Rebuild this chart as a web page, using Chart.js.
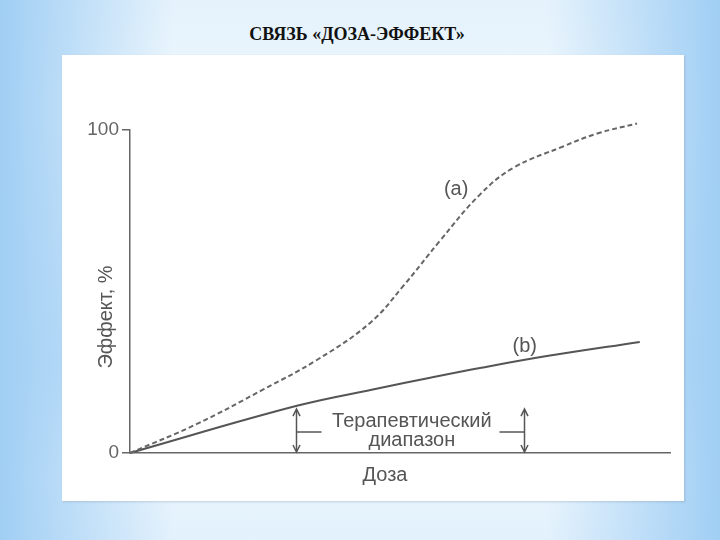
<!DOCTYPE html>
<html>
<head>
<meta charset="utf-8">
<script src="https://cdn.jsdelivr.net/npm/chart.js@4.4.1/dist/chart.umd.min.js"></script>
<style>
  html, body { margin:0; padding:0; }
  body {
    width:720px; height:540px; position:relative; overflow:hidden;
    background:
      linear-gradient(to right, rgba(160,206,244,1) 0%, rgba(205,230,250,0.0) 24%, rgba(205,230,250,0.0) 76%, rgba(160,206,244,1) 100%),
      linear-gradient(to bottom, #e4f2fc 0%, #eef7fd 20%, #d3e9fa 68%, #e9f5fd 88%, #e2f1fc 100%);
  }
  #title {
    position:absolute; left:0; width:714px; top:24px; text-align:center;
    font-family:"Liberation Serif", serif; font-weight:bold; font-size:18px; color:#111;
  }
  #panel {
    position:absolute; left:62px; top:55px; width:622px; height:446px; background:#fff;
    box-shadow: 1px 1px 2px rgba(120,140,160,0.35);
  }
  #c { position:absolute; left:0; top:0; }
</style>
</head>
<body>
<div id="title">СВЯЗЬ «ДОЗА-ЭФФЕКТ»</div>
<div id="panel"></div>
<canvas id="c" width="720" height="540"></canvas>
<script>
// ---- data ----
const doseA   = [0, 12.4, 24.6, 34.6, 44.4, 50.5, 57.4, 64.8, 71.0, 80.2, 86.5, 93.9];
const effectA = [0, 9.0, 19.6, 28.8, 40.2, 51.5, 65.7, 80.0, 88.3, 94.9, 98.9, 102.0];
const doseB   = [0, 30.9, 46.3, 55.6, 64.8, 77.2, 94.4];
const effectB = [0, 14.6, 20.1, 23.3, 26.3, 30.0, 34.4];
const yTicks  = [0, 100];
const therapeuticRange = [30.7, 73];
const curveLabels = ["(a)", "(b)"];
const rangeLabel = ["Терапевтический", "диапазон"];
const xTitle = "Доза";
const yTitle = "Эффект, %";

const toPts = (xs, ys) => xs.map((v, i) => ({ x: v, y: ys[i] }));

const annot = {
  id: 'annot',
  afterDatasetsDraw(chart) {
    const { ctx, scales: { x, y }, chartArea } = chart;
    ctx.save();
    ctx.strokeStyle = '#555';
    ctx.fillStyle = '#555';
    ctx.lineWidth = 1.5;
    const yb = y.getPixelForValue(0) - 2;
    const yt = y.getPixelForValue(13.3);
    const ym = y.getPixelForValue(6.5);
    therapeuticRange.forEach((d, i) => {
      const px = Math.round(x.getPixelForValue(d)) + 0.5;
      ctx.beginPath();
      ctx.moveTo(px, yb); ctx.lineTo(px, yt); ctx.stroke();
      ctx.beginPath();
      ctx.moveTo(px - 3.5, yt + 6); ctx.lineTo(px, yt - 1); ctx.lineTo(px + 3.5, yt + 6); ctx.stroke();
      ctx.beginPath();
      ctx.moveTo(px - 3.5, yb - 6); ctx.lineTo(px, yb + 1); ctx.lineTo(px + 3.5, yb - 6); ctx.stroke();
      const dir = i === 0 ? 1 : -1;
      ctx.beginPath();
      ctx.moveTo(px, ym); ctx.lineTo(px + dir * 25, ym); ctx.stroke();
    });
    ctx.font = '20px "Liberation Sans", Arial, sans-serif';
    ctx.textAlign = 'center';
    ctx.textBaseline = 'middle';
    const cx = x.getPixelForValue(52.2);
    ctx.fillText(rangeLabel[0], cx, y.getPixelForValue(9.9));
    ctx.fillText(rangeLabel[1], cx, y.getPixelForValue(4.0));
    ctx.fillText(curveLabels[0], x.getPixelForValue(60.4), y.getPixelForValue(81.5));
    ctx.fillText(curveLabels[1], x.getPixelForValue(73.1), y.getPixelForValue(33.1));
    // axis titles
    ctx.fillText(xTitle, 385, chartArea.bottom + 22);
    ctx.save();
    ctx.translate(106, 317);
    ctx.rotate(-Math.PI / 2);
    ctx.fillText(yTitle, 0, 0);
    ctx.restore();
    ctx.restore();
  }
};

new Chart(document.getElementById('c'), {
  type: 'line',
  data: {
    datasets: [
      {
        label: 'a',
        data: toPts(doseA, effectA),
        borderColor: '#666',
        borderWidth: 2,
        borderDash: [5, 3],
        pointRadius: 0,
        tension: 0.4,
        clip: false,
        fill: false
      },
      {
        label: 'b',
        data: toPts(doseB, effectB),
        borderColor: '#555',
        borderWidth: 2,
        pointRadius: 0,
        tension: 0.4,
        clip: false,
        fill: false
      }
    ]
  },
  options: {
    responsive: false,
    animation: false,
    events: [],
    layout: { padding: { left: 0, right: 50, top: 130, bottom: 87 } },
    plugins: { legend: { display: false }, tooltip: { enabled: false }, title: { display: false } },
    scales: {
      x: {
        type: 'linear', min: 0, max: 100,
        ticks: { display: false },
        grid: { display: false },
        border: { display: true, color: '#666', width: 1.5 },
        afterFit(s) { s.height = 0; }
      },
      y: {
        type: 'linear', min: 0, max: 100,
        afterBuildTicks(s) { s.ticks = yTicks.map(v => ({ value: v })); },
        ticks: {
          color: '#666',
          padding: 3,
          font: { family: '"Liberation Sans", Arial, sans-serif', size: 19 }
        },
        grid: { drawOnChartArea: false, drawTicks: true, tickLength: 8, color: '#666', lineWidth: 1.5 },
        border: { display: true, color: '#666', width: 1.5 },
        afterFit(s) { s.width = 130; }
      }
    }
  },
  plugins: [annot]
});
</script>
</body>
</html>
